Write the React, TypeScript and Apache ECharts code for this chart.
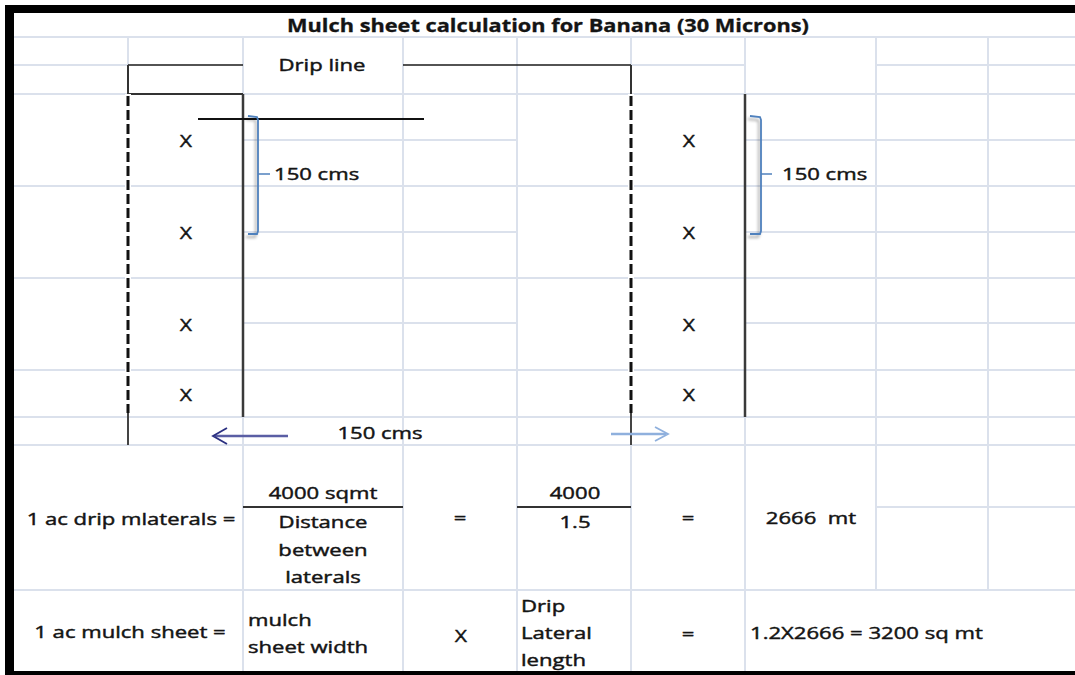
import React, { useEffect, useRef } from "react";
import * as echarts from "echarts";

// ---- content (texts and values) ----
const TITLE = "Mulch sheet calculation for Banana (30 Microns)";
const DRIP_LABEL = "Drip line";
const SPACING_LABEL = "150 cms";
const PLANT_MARK = "X";
const AREA_SQM = 4000;
const LATERAL_SPACING = "1.5";
const LATERAL_LENGTH = 2666;
const SHEET_WIDTH = "1.2";
const SHEET_AREA = 3200;
const ROW1_LABEL = "1 ac drip mlaterals =";
const ROW1_DENOM = ["Distance", "between", "laterals"];
const ROW2_LABEL = "1 ac mulch sheet =";
const ROW2_FACTOR_A = ["mulch", "sheet width"];
const ROW2_FACTOR_B = ["Drip", "Lateral", "length"];

// ---- layout ----
const FONT = "'Open Sans', sans-serif";
const SX = 1.3;
const GRID = "#dbe1ec";
const INK = "#141414";
const plantY = [140, 232, 324, 394];
const plantX = [186, 689];

// horizontal gridlines: [y, x1, x2]
const gridH: number[][] = [
  [37, 14, 1075],
  [65, 14, 128], [65, 631, 745], [65, 876, 1075],
  [94, 14, 1075],
  [140, 243, 517], [140, 745, 1075],
  [186, 14, 1075],
  [232, 243, 517], [232, 745, 1075],
  [278, 14, 1075],
  [323, 243, 517], [323, 745, 1075],
  [370, 14, 1075],
  [417, 14, 1075],
  [445, 14, 1075],
  [507, 876, 1075],
  [590, 14, 1075],
];
// vertical gridlines: [x, y1, y2]
const gridV: number[][] = [
  [128, 37, 65],
  [243, 37, 94], [243, 417, 671],
  [403, 37, 671],
  [517, 37, 671],
  [631, 37, 65], [631, 445, 671],
  [745, 37, 94], [745, 417, 671],
  [876, 37, 590],
  [988, 37, 590],
];

function ln(x1: number, y1: number, x2: number, y2: number, stroke: string, lineWidth: number, lineDash?: number[]) {
  return { type: "line", silent: true, shape: { x1, y1, x2, y2 }, style: { stroke, lineWidth, lineDash, fill: null } };
}
function pl(points: number[][], stroke: string, lineWidth: number, extra: any = {}) {
  return { type: "polyline", silent: true, shape: { points }, style: { stroke, lineWidth, fill: null, ...extra } };
}
function txt(text: string, x: number, y: number, o: any = {}) {
  return {
    type: "text",
    silent: true,
    x,
    y,
    scaleX: o.sx ?? SX,
    style: {
      text,
      fontFamily: FONT,
      fontSize: o.size ?? 17,
      fontWeight: o.bold ? "bold" : "normal",
      fill: INK,
      stroke: INK,
      lineWidth: o.bold ? 0.3 : 0.45,
      textAlign: o.align ?? "center",
      textVerticalAlign: "middle",
    },
  };
}

function buildElements() {
  const els: any[] = [];
  els.push({ type: "rect", silent: true, shape: { x: 0, y: 0, width: 1075, height: 675 }, style: { fill: "#ffffff" } });
  gridH.forEach(([y, a, b]) => els.push(ln(a, y, b, y, GRID, 2)));
  gridV.forEach(([x, a, b]) => els.push(ln(x, a, x, b, GRID, 2)));

  // drip line bracket
  els.push(ln(128, 65, 243, 65, "#1a1a1a", 1.5));
  els.push(ln(403, 65, 631, 65, "#1a1a1a", 1.5));
  els.push(ln(128, 65, 128, 94, "#333", 2));
  els.push(ln(631, 65, 631, 94, "#333", 2));
  els.push(ln(128, 94, 243, 94, "#333", 2));
  // solid row lines
  els.push(ln(243, 94, 243, 417, "#3a3a3a", 2.5));
  els.push(ln(745, 94, 745, 417, "#3a3a3a", 2.5));
  // dashed drip lines
  [128, 631].forEach((x) => {
    els.push(ln(x, 94, x, 413, "#ffffff", 6));
    els.push(ln(x, 96, x, 413, "#111", 3, [10, 4]));
    els.push(ln(x, 413, x, 445, "#444", 2));
  });
  // horizontal black line
  els.push(ln(198, 119, 424, 119, "#111", 1.8));

  // brackets
  const shadow = { shadowBlur: 3, shadowColor: "rgba(0,0,0,0.35)", shadowOffsetX: -2, shadowOffsetY: 3 };
  [[248, 258, 270], [750, 761, 772]].forEach(([a, b, c]) => {
    els.push(pl([[a, 116], [b - 1, 117], [b, 120], [b, 231], [b - 1, 234], [a, 234]], "#4f81bd", 1.8, shadow));
    els.push(ln(b, 174, c, 174, "#4f81bd", 1.5));
  });

  // arrows
  els.push(ln(215, 436, 288, 436, "#5a5ea4", 2.5));
  els.push(pl([[227, 428], [213, 436], [227, 444]], "#2a2f80", 1.8));
  els.push(ln(611, 434, 666, 434, "#8fb0dd", 2.5));
  els.push(pl([[655, 427], [668, 434], [655, 441]], "#8fb0dd", 1.8));

  // fraction lines
  els.push(ln(243, 507, 403, 507, "#333", 2));
  els.push(ln(517, 507, 631, 507, "#333", 2));

  // frame
  els.push({ type: "rect", silent: true, shape: { x: 5, y: 5, width: 9, height: 670 }, style: { fill: "#000" } });
  els.push({ type: "rect", silent: true, shape: { x: 5, y: 5, width: 1070, height: 8 }, style: { fill: "#000" } });
  els.push({ type: "rect", silent: true, shape: { x: 5, y: 671, width: 1070, height: 4 }, style: { fill: "#000" } });

  // texts
  els.push(txt(TITLE, 548, 25, { bold: true, sx: 1.28 }));
  els.push(txt(DRIP_LABEL, 322, 65));
  els.push(txt(SPACING_LABEL, 274, 174, { align: "left" }));
  els.push(txt(SPACING_LABEL, 782, 174, { align: "left" }));
  plantX.forEach((x) => plantY.forEach((y) => els.push(txt(PLANT_MARK, x, y, { size: 17, sx: 1.25 }))));
  els.push(txt(SPACING_LABEL, 380, 433));

  els.push(txt(ROW1_LABEL, 131, 519));
  els.push(txt(`${AREA_SQM} sqmt`, 323, 493));
  ROW1_DENOM.forEach((t, i) => els.push(txt(t, 323, 522 + i * 27.5)));
  els.push(txt("=", 460, 518));
  els.push(txt(`${AREA_SQM}`, 575, 493));
  els.push(txt(LATERAL_SPACING, 575, 522));
  els.push(txt("=", 688, 518));
  els.push(txt(`${LATERAL_LENGTH}  mt`, 811, 518));

  els.push(txt(ROW2_LABEL, 130, 632));
  ROW2_FACTOR_A.forEach((t, i) => els.push(txt(t, 248, 620 + i * 27, { align: "left" })));
  els.push(txt(PLANT_MARK, 461, 635, { size: 17, sx: 1.25 }));
  ROW2_FACTOR_B.forEach((t, i) => els.push(txt(t, 521, 606 + i * 27, { align: "left" })));
  els.push(txt("=", 688, 634));
  els.push(txt(`${SHEET_WIDTH}X${LATERAL_LENGTH} = ${SHEET_AREA} sq mt`, 750, 633, { align: "left" }));
  return els;
}

export default function App() {
  const ref = useRef<HTMLDivElement>(null);
  useEffect(() => {
    if (!ref.current) return;
    const chart = echarts.init(ref.current, null, { renderer: "svg" });
    chart.setOption({ animation: false, graphic: { elements: buildElements() } });
    return () => chart.dispose();
  }, []);
  return (
    <div
      ref={ref}
      style={{ position: "fixed", left: 0, top: 0, width: 1075, height: 675, background: "#fff" }}
    />
  );
}
